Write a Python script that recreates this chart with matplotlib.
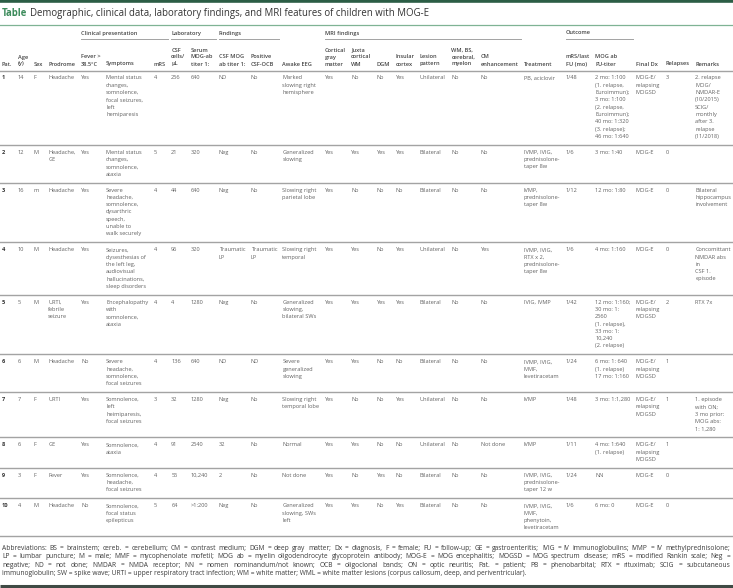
import matplotlib
matplotlib.use('Agg')
import matplotlib.pyplot as plt

plt.rcParams['font.family'] = ['Open Sans', 'DejaVu Sans']

# ── Table content ──────────────────────────────────────────────────────────
title_lead = 'Table'
title_text = ('Demographic, clinical data, laboratory findings, and MRI features '
              'of children with MOG-E')

group_labels = ['Clinical presentation', 'Laboratory', 'Findings', 'MRI findings', 'Outcome']
group_spans = [(4, 6), (7, 8), (9, 10), (12, 18), (20, 21)]

headers = ['Pat.', 'Age\n(y)', 'Sex', 'Prodrome', 'Fever >\n38.5°C', 'Symptoms', 'mRS',
           'CSF\ncells/\nµL', 'Serum\nMOG-ab\ntiter 1:', 'CSF MOG\nab titer 1:',
           'Positive\nCSF-OCB', 'Awake EEG', 'Cortical\ngray\nmatter', 'Juxta\ncortical\nWM',
           'DGM', 'Insular\ncortex', 'Lesion\npattern', 'WM, BS,\ncerebral,\nmyelon',
           'CM\nenhancement', 'Treatment', 'mRS/last\nFU (mo)', 'MOG ab\nFU-titer',
           'Final Dx', 'Relapses', 'Remarks']

patients = ['1', '2', '3', '4', '5', '6', '7', '8', '9', '10']
ages = ['14', '12', '16', '10', '5', '6', '7', '6', '3', '4']
sexes = ['F', 'M', 'm', 'M', 'M', 'M', 'F', 'F', 'F', 'M']
prodromes = ['Headache', 'Headache,\nGE', 'Headache', 'Headache', 'URTI,\nfebrile\nseizure',
             'Headache', 'URTI', 'GE', 'Fever', 'Headache']
fever = ['Yes', 'Yes', 'Yes', 'Yes', 'Yes', 'No', 'Yes', 'Yes', 'Yes', 'No']
symptoms = ['Mental status\nchanges,\nsomnolence,\nfocal seizures,\nleft\nhemiparesis',
            'Mental status\nchanges,\nsomnolence,\nataxia',
            'Severe\nheadache,\nsomnolence,\ndysarthric\nspeech,\nunable to\nwalk securely',
            'Seizures,\ndysesthesias of\nthe left leg,\naudiovisual\nhallucinations,\nsleep disorders',
            'Encephalopathy\nwith\nsomnolence,\nataxia',
            'Severe\nheadache,\nsomnolence,\nfocal seizures',
            'Somnolence,\nleft\nheimiparesis,\nfocal seizures',
            'Somnolence,\nataxia',
            'Somnolence,\nheadache,\nfocal seizures',
            'Somnolence,\nfocal status\nepilepticus']
mrs = ['4', '5', '4', '4', '4', '4', '3', '4', '4', '5']
csf_cells = ['256', '21', '44', '96', '4', '136', '32', '91', '55', '64']
serum_titer = ['640', '320', '640', '320', '1280', '640', '1280', '2540', '10,240', '>1:200']
csf_titer = ['ND', 'Neg', 'Neg', 'Traumatic\nLP', 'Neg', 'ND', 'Neg', '32', '2', 'Neg']
csf_ocb = ['No', 'No', 'No', 'Traumatic\nLP', 'No', 'ND', 'No', 'No', 'No', 'No']
eeg = ['Marked\nslowing right\nhemisphere', 'Generalized\nslowing', 'Slowing right\nparietal lobe',
       'Slowing right\ntemporal', 'Generalized\nslowing,\nbilateral SWs',
       'Severe\ngeneralized\nslowing', 'Slowing right\ntemporal lobe', 'Normal', 'Not done',
       'Generalized\nslowing, SWs\nleft']
cortical_gm = ['Yes'] * 10
juxta_wm = ['No', 'Yes', 'No', 'Yes', 'Yes', 'Yes', 'No', 'Yes', 'No', 'Yes']
dgm = ['No', 'Yes', 'No', 'No', 'Yes', 'No', 'No', 'No', 'Yes', 'No']
insular = ['Yes', 'Yes', 'No', 'Yes', 'Yes', 'No', 'Yes', 'No', 'No', 'Yes']
lesion = ['Unilateral', 'Bilateral', 'Bilateral', 'Unilateral', 'Bilateral', 'Bilateral',
          'Unilateral', 'Unilateral', 'Bilateral', 'Bilateral']
wm_bs = ['No'] * 10
cm_enh = ['No', 'No', 'No', 'Yes', 'No', 'No', 'No', 'Not done', 'No', 'No']
treatment = ['PB, aciclovir', 'IVMP, IVIG,\nprednisolone-\ntaper 8w', 'IVMP,\nprednisolone-\ntaper 8w',
             'IVMP, IVIG,\nRTX x 2,\nprednisolone-\ntaper 8w', 'IVIG, IVMP',
             'IVMP, IVIG,\nMMF,\nlevetiracetam', 'IVMP', 'IVMP',
             'IVMP, IVIG,\nprednisolone-\ntaper 12 w', 'IVMP, IVIG,\nMMF,\nphenytoin,\nlevetiracetam']
mrs_fu = ['1/48', '1/6', '1/12', '1/6', '1/42', '1/24', '1/48', '1/11', '1/24', '1/6']
fu_titer = ['2 mo: 1:100\n(1. relapse,\nEuroimmun);\n3 mo: 1:100\n(2. relapse,\nEuroimmun);\n'
            '40 mo: 1:320\n(3. relapse);\n46 mo: 1:640',
            '3 mo: 1:40', '12 mo: 1:80', '4 mo: 1:160',
            '12 mo: 1:160;\n30 mo: 1:\n2560\n(1. relapse),\n33 mo: 1:\n10,240\n(2. relapse)',
            '6 mo: 1: 640\n(1. relapse)\n17 mo: 1:160', '3 mo: 1:1,280', '4 mo: 1:640\n(1. relapse)',
            'NN', '6 mo: 0']
final_dx = ['MOG-E/\nrelapsing\nMOGSD', 'MOG-E', 'MOG-E', 'MOG-E', 'MOG-E/\nrelapsing\nMOGSD',
            'MOG-E/\nrelapsing\nMOGSD', 'MOG-E/\nrelapsing\nMOGSD', 'MOG-E/\nrelapsing\nMOGSD',
            'MOG-E', 'MOG-E']
relapses = ['3', '0', '0', '0', '2', '1', '1', '1', '0', '0']
remarks = ['2. relapse\nMOG/\nNMDAR-E\n(10/2015)\nSCIG/\nmonthly\nafter 3.\nrelapse\n(11/2018)',
           '', 'Bilateral\nhippocampus\ninvolvement', 'Concomittant\nNMDAR abs\nin\nCSF 1.\nepisode',
           'RTX 7x', '', '1. episode\nwith ON;\n3 mo prior:\nMOG abs:\n1: 1,280', '', '', '']

footnote = [
    'Abbreviations: BS = brainstem; cereb. = cerebellum; CM = contrast medium; DGM = deep gray matter; '
    'Dx = diagnosis, F = female; FU = follow-up; GE = gastroenteritis; IVIG = IV immunoglobulins; '
    'IVMP = IV methylprednisolone;',
    'LP = lumbar puncture; M = male; MMF = mycophenolate mofetil; MOG ab = myelin oligodendrocyte '
    'glycoprotein antibody; MOG-E = MOG encephalitis; MOGSD = MOG spectrum disease; '
    'mRS = modified Rankin scale; Neg =',
    'negative; ND = not done; NMDAR = NMDA receptor; NN = nomen nominandum/not known; '
    'OCB = oligoclonal bands; ON = optic neuritis; Pat. = patient; PB = phenobarbital; '
    'RTX = rituximab; SCIG = subcutaneous',
    'immunoglobulin; SW = spike wave; URTI = upper respiratory tract infection; WM = white matter; '
    'WML = white matter lesions (corpus callosum, deep, and periventricular).',
]

columns = [patients, ages, sexes, prodromes, fever, symptoms, mrs, csf_cells, serum_titer,
           csf_titer, csf_ocb, eeg, cortical_gm, juxta_wm, dgm, insular, lesion, wm_bs, cm_enh,
           treatment, mrs_fu, fu_titer, final_dx, relapses, remarks]

# ── Style ──────────────────────────────────────────────────────────────────
GREEN_DARK = '#2b5d45'
GREEN = '#3d8c5c'
GREEN_LINE = '#7fb394'
RULE = '#a3a3a3'
TXT = '#626262'
HDR = '#454545'
BODY_FS = 4.1
HEAD_FS = 4.1
FOOT_FS = 4.75
TITLE_FS = 6.9
LH = 7.3          # body line height, px
PAD = 8.6         # vertical padding per row, px

W, H = 733, 588
fig = plt.figure(figsize=(W / 100, H / 100), dpi=100, facecolor='white')
ax = fig.add_axes([0, 0, 1, 1])
ax.set_xlim(0, W)
ax.set_ylim(H, 0)
ax.axis('off')
renderer = fig.canvas.get_renderer()


def text_w(s, size, weight='normal'):
    t = ax.text(0, 0, s, fontsize=size, fontweight=weight)
    w = t.get_window_extent(renderer).width
    t.remove()
    return w


# ── Column positions from text widths ──────────────────────────────────────
widths = []
for head, col in zip(headers, columns):
    lines = [ln for cell in col for ln in cell.split('\n') if ln]
    wb = max(text_w(ln, BODY_FS) for ln in lines)
    wh = max(text_w(ln, HEAD_FS, 'semibold') for ln in head.split('\n'))
    widths.append(max(wb, wh))
x0 = 2
gap = (W - 2 - x0 - sum(widths)) / (len(widths) - 1)
xs = [x0]
for w in widths[:-1]:
    xs.append(xs[-1] + w + gap)

# ── Title block ────────────────────────────────────────────────────────────
ax.plot([0, W], [1.2, 1.2], color=GREEN_DARK, lw=2.6, solid_capstyle='butt')
ax.text(x0, 13.5, title_lead, fontsize=TITLE_FS, fontweight='bold', color=GREEN, va='center')
lead_w = text_w(title_lead + ' ', TITLE_FS, 'bold')
ax.text(x0 + lead_w, 13.5, title_text, fontsize=TITLE_FS, color='#333333', va='center')
ax.plot([0, W], [24.5, 24.5], color=GREEN_LINE, lw=0.9)

# ── Group headers ──────────────────────────────────────────────────────────
for label, (a, b) in zip(group_labels, group_spans):
    ax.text(xs[a], 33, label, fontsize=HEAD_FS, fontweight='semibold', color=HDR, va='center')
    ax.plot([xs[a], xs[b] + widths[b] + gap * 0.45], [38.5, 38.5], color=RULE, lw=0.7)

# ── Column headers (bottom aligned) ────────────────────────────────────────
head_bottom = 64
for x, head in zip(xs, headers):
    lines = head.split('\n')
    for i, ln in enumerate(lines):
        y = head_bottom - (len(lines) - 1 - i) * 7.0
        ax.text(x, y, ln, fontsize=HEAD_FS, fontweight='semibold', color=HDR, va='center')
ax.plot([0, W], [70.5, 70.5], color=RULE, lw=1.0)

# ── Body rows ──────────────────────────────────────────────────────────────
top = 70.5
for r in range(len(patients)):
    n = max(len(col[r].split('\n')) for col in columns)
    for j, (x, col) in enumerate(zip(xs, columns)):
        for i, ln in enumerate(col[r].split('\n')):
            y = top + 3.8 + LH / 2 + i * LH
            if j == 0:
                ax.text(x, y, ln, fontsize=BODY_FS, fontweight='bold', color='#333333', va='center')
            else:
                ax.text(x, y, ln, fontsize=BODY_FS, color=TXT, va='center')
    top += n * LH + PAD
    ax.plot([0, W], [top, top], color=RULE, lw=1.0)

# ── Footnote (justified) ───────────────────────────────────────────────────
fy = top + 12
for k, line in enumerate(footnote):
    y = fy + k * 8.5
    words = line.split(' ')
    if k < len(footnote) - 1:
        ws = [text_w(w, FOOT_FS) for w in words]
        space = (W - 3 - x0 - sum(ws)) / (len(words) - 1)
        x = x0
        for wd, wpx in zip(words, ws):
            ax.text(x, y, wd, fontsize=FOOT_FS, color='#3a3a3a', va='center')
            x += wpx + space
    else:
        ax.text(x0, y, line, fontsize=FOOT_FS, color='#3a3a3a', va='center')
ax.plot([0, W], [585.5, 585.5], color='#3f4a44', lw=2.2, solid_capstyle='butt')

fig.savefig('out.png', dpi=100, facecolor='white')
plt.close(fig)
